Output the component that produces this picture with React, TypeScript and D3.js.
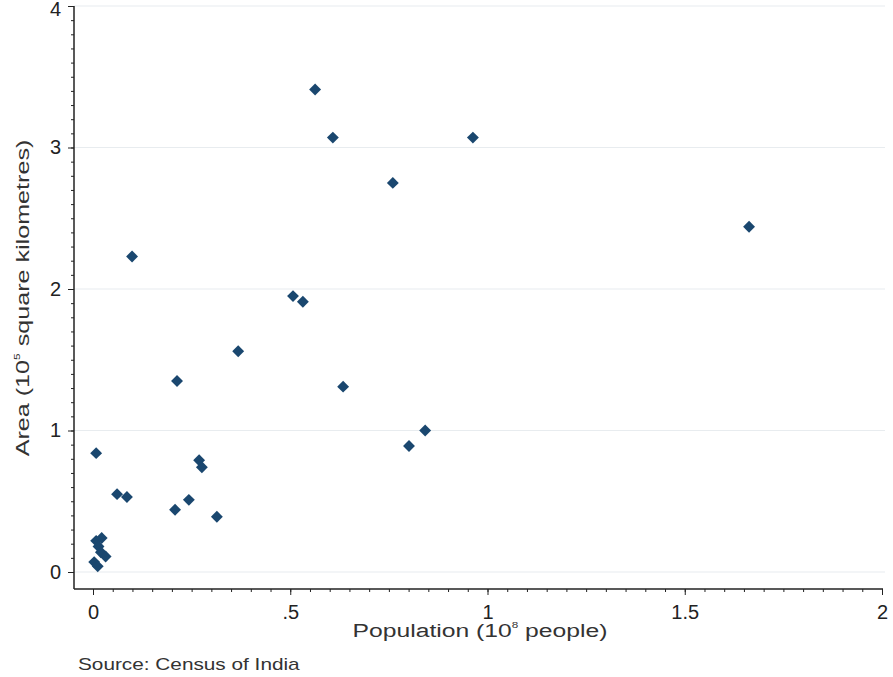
import React, { useEffect, useRef } from "react";
import * as d3 from "d3";

// population (10^8 people) and area (10^5 sq km)
const population = [
  0.563, 0.608, 0.963, 0.76, 1.663, 0.099, 0.507, 0.532, 0.368, 0.213, 0.634,
  0.842, 0.801, 0.008, 0.269, 0.276, 0.061, 0.086, 0.208, 0.243, 0.314, 0.008,
  0.022, 0.014, 0.02, 0.032, 0.003, 0.012,
];
const area = [
  3.41, 3.07, 3.07, 2.75, 2.44, 2.23, 1.95, 1.91, 1.56, 1.35, 1.31, 1.0, 0.89,
  0.84, 0.79, 0.74, 0.55, 0.53, 0.44, 0.51, 0.39, 0.22, 0.24, 0.18, 0.14, 0.11,
  0.07, 0.04,
];
const xTicks = [0, 0.5, 1, 1.5, 2];
const xTickLabels = ["0", ".5", "1", "1.5", "2"];
const yTicks = [0, 1, 2, 3, 4];

const width = 893;
const height = 677;

const App: React.FC = () => {
  const svgRef = useRef<SVGSVGElement | null>(null);

  useEffect(() => {
    const svg = d3.select(svgRef.current);
    svg.selectAll("*").remove();

    const font = "'Liberation Sans', Arial, sans-serif";
    const x = d3.scaleLinear().domain([0, 2]).range([93, 882]);
    const y = d3.scaleLinear().domain([0, 4]).range([572, 6]);
    const left = 74;
    const bottom = 589;

    // stretch a text group horizontally to a target width (the source font is wide)
    const fit = (g: any, target: number) => {
      const t = g.select("text").node() as SVGTextElement;
      const w = t.getBBox().width;
      const s = target / w;
      g.select("text").attr("transform", `scale(${s},1)`);
    };

    // horizontal grid
    svg
      .append("g")
      .selectAll("line")
      .data(yTicks)
      .enter()
      .append("line")
      .attr("x1", left)
      .attr("x2", 885)
      .attr("y1", (d) => y(d))
      .attr("y2", (d) => y(d))
      .attr("stroke", "#e8ecef")
      .attr("stroke-width", 1.2);

    // y axis
    const yAxis = svg.append("g").attr("transform", `translate(${left},0)`);
    yAxis
      .call(
        d3
          .axisLeft(y)
          .tickValues(d3.range(0, 40.5, 1).map((v) => v / 10))
          .tickSize(3)
          .tickFormat(() => "")
      )
      .call((g) => g.select(".domain").remove());
    yAxis
      .call((g) =>
        g
          .append("g")
          .call(
            d3
              .axisLeft(y)
              .tickValues(yTicks)
              .tickSize(6)
              .tickFormat(d3.format("d"))
          )
      )
      .selectAll("text")
      .attr("font-family", font)
      .attr("font-size", 20)
      .attr("fill", "#222")
      .attr("dx", -4)
      .attr("dy", (d: any) => (d === 4 ? "0.45em" : "0.32em"));
    yAxis.selectAll(".domain").remove();
    yAxis.selectAll("line").attr("stroke", "#222");
    svg
      .append("line")
      .attr("x1", left)
      .attr("x2", left)
      .attr("y1", y(4))
      .attr("y2", bottom)
      .attr("stroke", "#222")
      .attr("stroke-width", 1.5);

    // x axis
    const xAxis = svg.append("g").attr("transform", `translate(0,${bottom})`);
    xAxis
      .call(
        d3
          .axisBottom(x)
          .tickValues(d3.range(0, 40.5, 1).map((v) => v / 20))
          .tickSize(3)
          .tickFormat(() => "")
      )
      .call((g) => g.select(".domain").remove());
    xAxis
      .call((g) =>
        g
          .append("g")
          .call(
            d3
              .axisBottom(x)
              .tickValues(xTicks)
              .tickSize(6)
              .tickFormat((d, i) => xTickLabels[i])
          )
      )
      .selectAll("text")
      .attr("font-family", font)
      .attr("font-size", 20)
      .attr("fill", "#222")
      .attr("dy", "1.05em");
    xAxis.selectAll(".domain").remove();
    xAxis.selectAll("line").attr("stroke", "#222");
    svg
      .append("line")
      .attr("x1", left)
      .attr("x2", x(2) + 1)
      .attr("y1", bottom)
      .attr("y2", bottom)
      .attr("stroke", "#222")
      .attr("stroke-width", 1.5);

    // points
    svg
      .append("g")
      .selectAll("path")
      .data(population)
      .enter()
      .append("path")
      .attr("d", d3.symbol().type(d3.symbolDiamond2).size(90))
      .attr("transform", (d, i) => `translate(${x(d)},${y(area[i])})`)
      .attr("fill", "#1a476f");

    // axis titles
    const xg = svg.append("g").attr("transform", "translate(480,637)");
    const xt = xg
      .append("text")
      .attr("text-anchor", "middle")
      .attr("font-family", font)
      .attr("font-size", 19)
      .attr("fill", "#333");
    xt.append("tspan").text("Population (10");
    xt.append("tspan").attr("font-size", 9).attr("dy", -9).text("8");
    xt.append("tspan").attr("dy", 9).text(" people)");
    fit(xg, 255);

    const yg = svg.append("g").attr("transform", "translate(29,298) rotate(-90)");
    const yt = yg
      .append("text")
      .attr("text-anchor", "middle")
      .attr("font-family", font)
      .attr("font-size", 19)
      .attr("fill", "#333");
    yt.append("tspan").text("Area (10");
    yt.append("tspan").attr("font-size", 9).attr("dy", -9).text("5");
    yt.append("tspan").attr("dy", 9).text(" square kilometres)");
    fit(yg, 317);

    const sg = svg.append("g").attr("transform", "translate(78,670)");
    sg.append("text")
      .attr("font-family", font)
      .attr("font-size", 16)
      .attr("fill", "#333")
      .text("Source: Census of India");
    fit(sg, 222);
  }, []);

  return (
    <svg
      ref={svgRef}
      width={width}
      height={height}
      style={{ position: "absolute", left: 0, top: 0, background: "#fff" }}
    ></svg>
  );
};

export default App;
